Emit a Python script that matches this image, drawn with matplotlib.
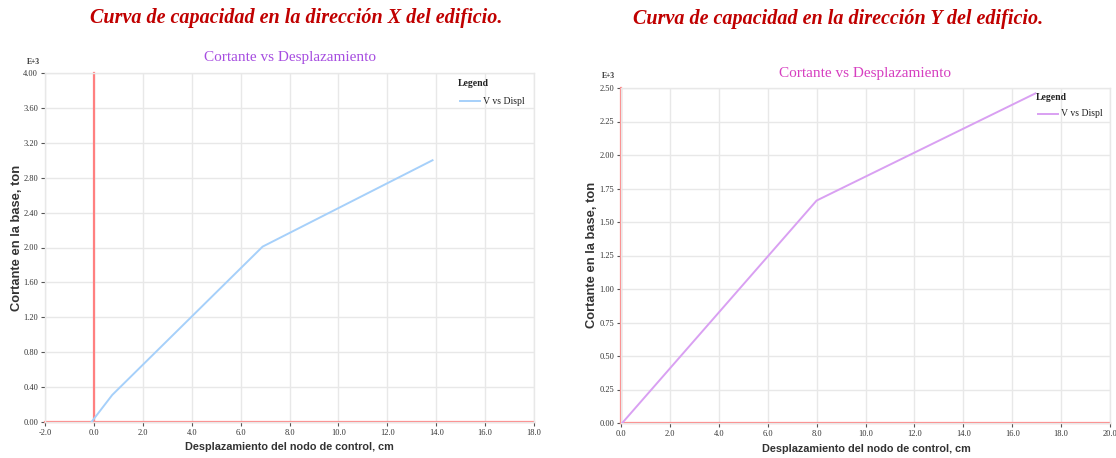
import matplotlib.pyplot as plt
from matplotlib.ticker import FormatStrFormatter, MultipleLocator

# Pushover curves (displacement in cm, base shear in ton x 1000)
disp_x = [-0.1, 0.75, 6.9, 13.85]
shear_x = [0.0, 0.31, 2.01, 3.00]

disp_y = [0.05, 8.0, 16.95]
shear_y = [0.0, 1.66, 2.46]

W, H = 1116, 458
SERIF = "Liberation Serif"
SANS = "Liberation Sans"
TITLE_RED = "#c00000"
AXIS_RED = "#ff8080"
GRID = "#e8e8e8"


def px_axes(fig, x0, y0, x1, y1):
    # axes rectangle given in pixel coordinates (top-left origin)
    return fig.add_axes([x0 / W, 1 - y1 / H, (x1 - x0) / W, (y1 - y0) / H])


def style_axes(ax, xlim, ylim, xstep, ystep):
    ax.set_xlim(*xlim)
    ax.set_ylim(*ylim)
    ax.xaxis.set_major_locator(MultipleLocator(xstep))
    ax.yaxis.set_major_locator(MultipleLocator(ystep))
    ax.xaxis.set_major_formatter(FormatStrFormatter("%.1f"))
    ax.yaxis.set_major_formatter(FormatStrFormatter("%.2f"))
    ax.grid(True, color=GRID, linewidth=1.0)
    ax.set_axisbelow(True)
    for s in ax.spines.values():
        s.set_color(GRID)
        s.set_linewidth(1.0)
    ax.tick_params(direction="out", length=3, width=0.8, color="#555555",
                   labelsize=6, labelcolor="#333333", pad=2)
    for lab in ax.get_xticklabels() + ax.get_yticklabels():
        lab.set_family(SERIF)
    ax.axhline(0, color=AXIS_RED, linewidth=1.6, clip_on=False, zorder=2)
    ax.axvline(0, color=AXIS_RED, linewidth=1.6, clip_on=False, zorder=2)


def axis_titles(xc, xy, yx, yc):
    fig.text(xc / W, 1 - xy / H, "Desplazamiento del nodo de control, cm", ha="center",
             va="center", family=SANS, fontsize=7.8, fontweight="bold", color="#333333")
    fig.text(yx / W, 1 - yc / H, "Cortante en la base, ton", ha="center", va="center",
             rotation=90, family=SANS, fontsize=9.3, fontweight="bold", color="#333333")


def legend_box(x, y, color):
    fig.text(x / W, 1 - y / H, "Legend", ha="left", va="center", family=SERIF,
             fontsize=7, fontweight="bold", color="#222222")
    fig.add_artist(plt.Line2D([(x + 2) / W, (x + 22) / W], [1 - (y + 17) / H] * 2,
                              color=color, linewidth=1.4))
    fig.text((x + 25) / W, 1 - (y + 17) / H, "V vs Displ", ha="left", va="center",
             family=SERIF, fontsize=7, color="#222222")


fig = plt.figure(figsize=(W / 100, H / 100), dpi=100)

# --- Direction X ---
ax1 = px_axes(fig, 45, 73, 534, 422)
style_axes(ax1, (-2, 18), (0, 4.0), 2, 0.4)
ax1.plot(disp_x, shear_x, color="#a6d0fa", linewidth=1.4, zorder=3)

fig.text(296 / W, 1 - 18 / H, "Curva de capacidad en la dirección X del edificio.",
         ha="center", va="center", family=SERIF, fontsize=14.5, fontweight="bold",
         style="italic", color=TITLE_RED)
fig.text(290 / W, 1 - 57 / H, "Cortante vs Desplazamiento", ha="center", va="center",
         family=SERIF, fontsize=11, color="#a64de0")
fig.text(27 / W, 1 - 62 / H, "E+3", ha="left", va="center", family=SERIF,
         fontsize=5.5, fontweight="bold", color="#333333")
axis_titles(289, 447, 17, 238)
legend_box(458, 84, "#a6d0fa")

# --- Direction Y ---
ax2 = px_axes(fig, 621, 88, 1110, 423)
style_axes(ax2, (0, 20), (0, 2.5), 2, 0.25)
ax2.plot(disp_y, shear_y, color="#d9a0f2", linewidth=1.4, zorder=3)

fig.text(838 / W, 1 - 19 / H, "Curva de capacidad en la dirección Y del edificio.",
         ha="center", va="center", family=SERIF, fontsize=14.5, fontweight="bold",
         style="italic", color=TITLE_RED)
fig.text(865 / W, 1 - 73 / H, "Cortante vs Desplazamiento", ha="center", va="center",
         family=SERIF, fontsize=11, color="#d63fc0")
fig.text(602 / W, 1 - 76 / H, "E+3", ha="left", va="center", family=SERIF,
         fontsize=5.5, fontweight="bold", color="#333333")
axis_titles(866, 449, 592, 255)
legend_box(1036, 97, "#d9a0f2")

fig.savefig("out.png", dpi=100, facecolor="white")
